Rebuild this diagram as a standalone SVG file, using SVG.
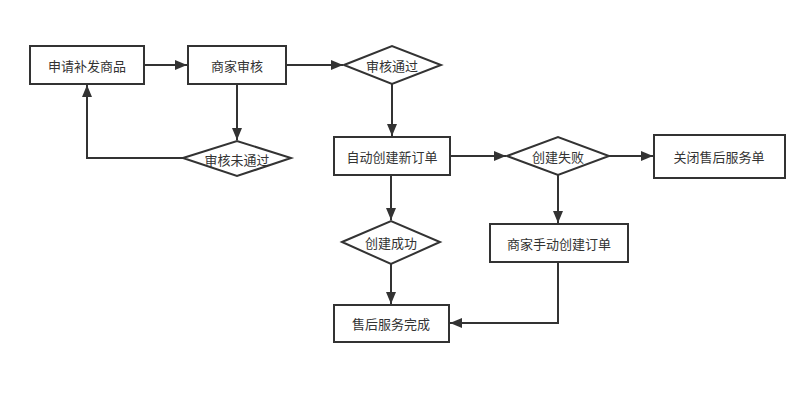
<svg xmlns="http://www.w3.org/2000/svg" width="806" height="397" viewBox="0 0 806 397">
<style>
.n{fill:#fff;stroke:#333;stroke-width:2}
.t{font-family:"Noto Sans CJK SC","Liberation Sans",sans-serif;font-size:13px;fill:#333;text-anchor:middle;dominant-baseline:central}
.c{fill:none;stroke:#333;stroke-width:2;marker-end:url(#a)}
</style>
<defs>
<marker id="a" viewBox="0 0 12 10" refX="12" refY="5" markerWidth="12" markerHeight="10" markerUnits="userSpaceOnUse" orient="auto">
<path d="M0,0L12,5L0,10z" fill="#333"/>
</marker>
</defs>
<rect width="806" height="397" fill="#fff"/>
<g id="connectors">
<path class="c" d="M144,65H187"/>
<path class="c" d="M286,65H343"/>
<path class="c" d="M237,84V140"/>
<path class="c" d="M183,158H87V85"/>
<path class="c" d="M392,84V136"/>
<path class="c" d="M450,156H506"/>
<path class="c" d="M609,156H653"/>
<path class="c" d="M558,175V223"/>
<path class="c" d="M391,175V220"/>
<path class="c" d="M391,264V304"/>
<path class="c" d="M558,262V323H450"/>
</g>
<g id="n1"><rect class="n" x="30" y="46" width="114" height="38"/><text class="t" x="87" y="65">申请补发商品</text></g>
<g id="n2"><rect class="n" x="188" y="46" width="98" height="38"/><text class="t" x="237" y="65">商家审核</text></g>
<g id="n3"><path class="n" d="M344,65L392,46L441,65L392,84z"/><text class="t" x="392" y="65">审核通过</text></g>
<g id="n4"><path class="n" d="M183,158L237,141L291,158L237,176z"/><text class="t" x="237" y="159">审核未通过</text></g>
<g id="n5"><rect class="n" x="334" y="137" width="116" height="38"/><text class="t" x="392" y="156">自动创建新订单</text></g>
<g id="n6"><path class="n" d="M507,156L558,137L609,156L558,175z"/><text class="t" x="558" y="156">创建失败</text></g>
<g id="n7"><rect class="n" x="654" y="135" width="131" height="43"/><text class="t" x="719" y="156">关闭售后服务单</text></g>
<g id="n8"><path class="n" d="M342,242L391,221L440,242L391,264z"/><text class="t" x="391" y="242">创建成功</text></g>
<g id="n9"><rect class="n" x="490" y="224" width="138" height="38"/><text class="t" x="559" y="243">商家手动创建订单</text></g>
<g id="n10"><rect class="n" x="334" y="305" width="115" height="37"/><text class="t" x="391" y="323">售后服务完成</text></g>
</svg>
